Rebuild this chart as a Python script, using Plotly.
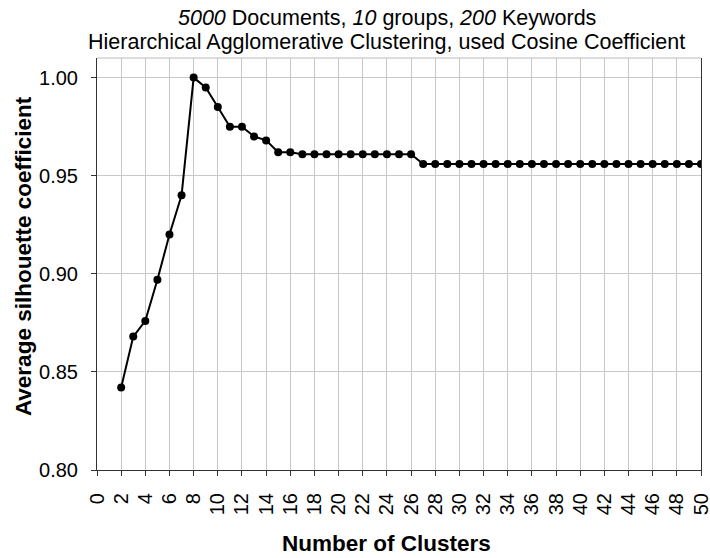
import plotly.graph_objects as go

clusters = list(range(2, 51))
silhouette = [0.842, 0.868, 0.876, 0.897, 0.920, 0.940, 1.000, 0.995, 0.985,
              0.975, 0.975, 0.970, 0.968, 0.962, 0.962,
              0.961, 0.961, 0.961, 0.961, 0.961, 0.961, 0.961, 0.961, 0.961, 0.961,
              0.956, 0.956, 0.956, 0.956, 0.956, 0.956, 0.956, 0.956, 0.956, 0.956,
              0.956, 0.956, 0.956, 0.956, 0.956, 0.956, 0.956, 0.956, 0.956, 0.956,
              0.956, 0.956, 0.956, 0.956]
x_ticks = list(range(0, 51, 2))
y_ticks = [0.80, 0.85, 0.90, 0.95, 1.00]
title_lines = ["<i>5000</i> Documents, <i>10</i> groups, <i>200</i> Keywords",
               "Hierarchical Agglomerative Clustering, used Cosine Coefficient"]
x_title = "<b>Number of Clusters</b>"
y_title = "<b>Average silhouette coefficient</b>"

FONT = "Liberation Sans, Arial, sans-serif"
AX = "#333333"
GRID = "#c8c8c8"

fig = go.Figure()
fig.add_trace(go.Scatter(
    x=clusters, y=silhouette, mode="lines+markers",
    line=dict(color="black", width=2),
    marker=dict(color="black", size=8),
    showlegend=False,
))

common_tick = dict(tickmode="array", ticks="outside", ticklen=5, tickcolor=AX,
                   showline=True, linecolor=AX, linewidth=1,
                   showgrid=True, gridcolor=GRID, gridwidth=1,
                   zeroline=False, automargin=False, ticklabeloverflow="allow",
                   tickfont=dict(size=20, family=FONT, color="black"))

fig.update_layout(
    width=710, height=558,
    margin=dict(l=97, r=9, t=58, b=88),
    paper_bgcolor="white", plot_bgcolor="white",
    font=dict(family=FONT, color="black"),
    xaxis=dict(range=[0, 50], tickvals=x_ticks, ticktext=[str(v) for v in x_ticks],
               tickangle=-90, ticklabelstandoff=9, **common_tick),
    yaxis=dict(range=[0.80, 1.01], tickvals=y_ticks,
               ticktext=[f"{v:.2f}" for v in y_ticks], mirror=True,
               ticklabelstandoff=9, **common_tick),
    # inner halves of the crossing tick marks
    xaxis2=dict(range=[0, 50], overlaying="x", anchor="y", side="bottom",
                tickmode="array", tickvals=x_ticks, ticks="inside", ticklen=4,
                tickcolor=AX, showticklabels=False, showgrid=False,
                showline=False, zeroline=False),
    yaxis2=dict(range=[0.80, 1.01], overlaying="y", anchor="x", side="left",
                tickmode="array", tickvals=y_ticks, ticks="inside", ticklen=4,
                tickcolor=AX, showticklabels=False, showgrid=False,
                showline=False, zeroline=False),
    shapes=[dict(type="line", xref="paper", yref="paper", x0=0, x1=1, y0=1, y1=1,
                 line=dict(color="#bbbbbb", width=1))],
    annotations=[
        dict(text=title_lines[0], xref="paper", yref="paper", x=0.480, y=1.097,
             xanchor="center", yanchor="middle", showarrow=False,
             font=dict(size=21.5, family=FONT, color="black")),
        dict(text=title_lines[1], xref="paper", yref="paper", x=0.480, y=1.040,
             xanchor="center", yanchor="middle", showarrow=False,
             font=dict(size=21.5, family=FONT, color="black")),
        dict(text=x_title, xref="paper", yref="paper", x=0.480, y=-0.178,
             xanchor="center", yanchor="middle", showarrow=False,
             font=dict(size=22.5, family=FONT, color="black")),
        dict(text=y_title, xref="paper", yref="paper", x=-0.122, y=0.520,
             xanchor="center", yanchor="middle", showarrow=False, textangle=-90,
             font=dict(size=22.5, family=FONT, color="black")),
    ],
)

fig.write_html("out.html")
